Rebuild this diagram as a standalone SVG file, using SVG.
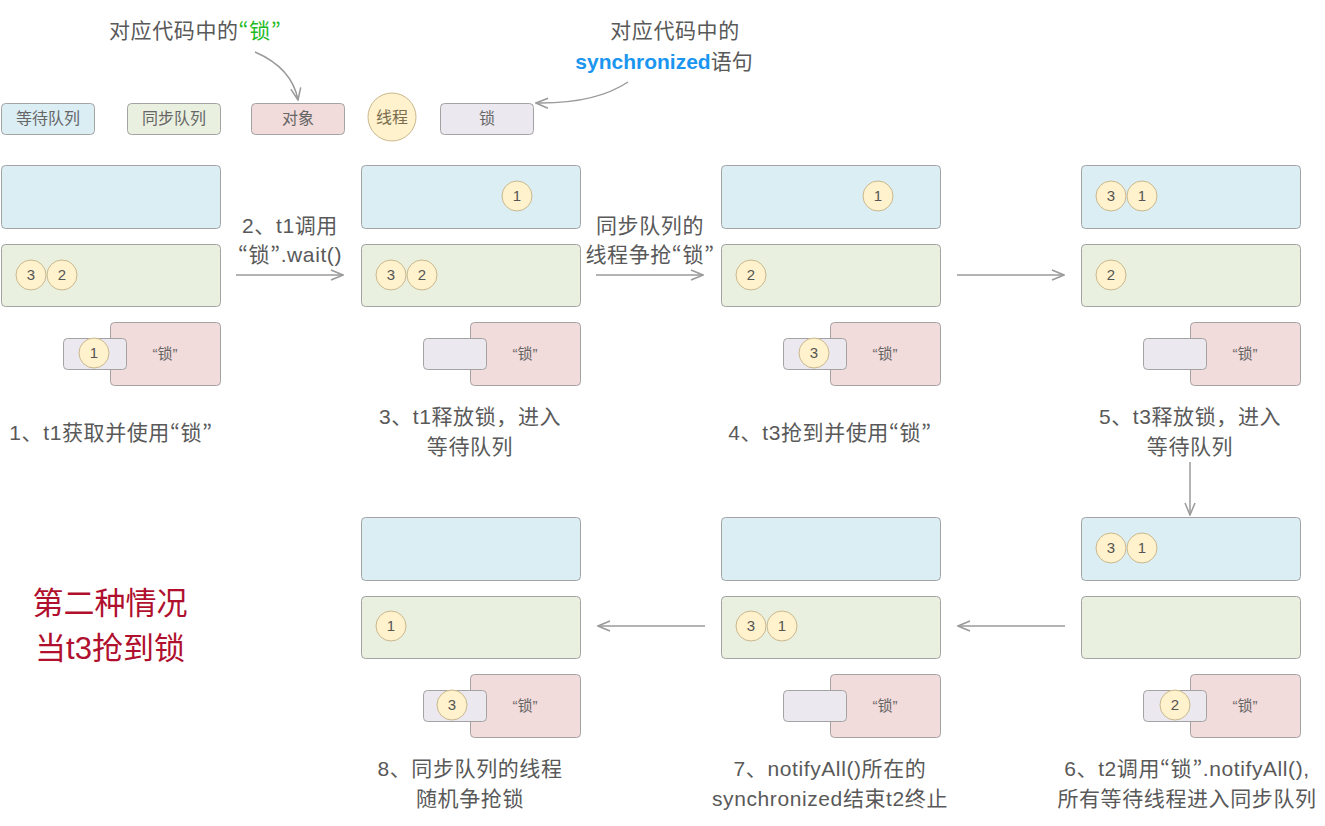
<svg xmlns="http://www.w3.org/2000/svg" xmlns:xlink="http://www.w3.org/1999/xlink" width="1325" height="826" viewBox="0 0 1325 826">
<style>
text{font-family:"Liberation Sans","Noto Sans CJK SC",sans-serif;fill:#595959}
.q{font-family:"Noto Sans CJK JP","Noto Sans CJK SC",sans-serif}
.qw{fill:#dbeef4;stroke:#a3a3a3;stroke-width:1}
.qs{fill:#e9f0df;stroke:#a3a3a3;stroke-width:1}
.ob{fill:#f2dcdb;stroke:#a3a3a3;stroke-width:1}
.lk{fill:#ebe8ef;stroke:#a3a3a3;stroke-width:1}
.th{fill:#fff2cc;stroke:#c9b88e;stroke-width:1}
.tn{font-size:15px;text-anchor:middle;fill:#555}
.lg{font-size:16px;text-anchor:middle;fill:#666}
.cap{font-size:21px;text-anchor:middle;letter-spacing:0.6px}
.con{fill:none;stroke:#9a9a9a;stroke-width:1.5}
</style>
<defs>
<marker id="arr" viewBox="0 0 14 12" refX="13" refY="6" markerWidth="14" markerHeight="12" markerUnits="userSpaceOnUse" orient="auto">
<path d="M1,1 L13,6 L1,11" fill="none" stroke="#9a9a9a" stroke-width="1.5"/>
</marker>
<g id="panel">
<rect class="qw" x="1.5" y="165.5" width="219" height="63" rx="4"/>
<rect class="qs" x="1.5" y="244.5" width="219" height="62" rx="4"/>
<rect class="ob" x="110.5" y="322.5" width="110" height="63" rx="4"/>
<text class="lg" x="165" y="359" style="font-size:15px">“锁”</text>
<rect class="lk" x="63.5" y="338.5" width="63" height="31" rx="4"/>
</g>
</defs>

<g id="legend">
<g id="lg-wait"><rect class="qw" x="1.5" y="103.5" width="93" height="31" rx="4"/><text class="lg" x="48" y="124">等待队列</text></g>
<g id="lg-sync"><rect class="qs" x="127.5" y="103.5" width="93" height="31" rx="4"/><text class="lg" x="174" y="124">同步队列</text></g>
<g id="lg-obj"><rect class="ob" x="251.5" y="103.5" width="93" height="31" rx="4"/><text class="lg" x="298" y="124">对象</text></g>
<g id="lg-thread"><circle class="th" cx="392" cy="117" r="24"/><text class="lg" x="392" y="123" style="fill:#7a6e50">线程</text></g>
<g id="lg-lock"><rect class="lk" x="440.5" y="103.5" width="93" height="31" rx="4"/><text class="lg" x="487" y="124">锁</text></g>
</g>

<g id="notes">
<text x="109" y="38" style="font-size:21px;letter-spacing:0.6px">对应代码中的<tspan class="q" style="fill:#1fba1f">“锁”</tspan></text>
<text x="675" y="38" style="font-size:21px;letter-spacing:0.6px;text-anchor:middle">对应代码中的</text>
<text x="664" y="69" style="font-size:21px;text-anchor:middle"><tspan style="fill:#1a95f0;font-weight:bold">synchronized</tspan>语句</text>
<text x="110" y="614" style="font-size:31px;text-anchor:middle;fill:#b0102e">第二种情况</text>
<text x="110" y="659" style="font-size:31px;text-anchor:middle;fill:#b0102e">当t3抢到锁</text>
</g>

<g id="step1">
<use xlink:href="#panel"/>
<circle class="th" cx="31" cy="275" r="15"/><text class="tn" x="31" y="280">3</text>
<circle class="th" cx="62" cy="275" r="15"/><text class="tn" x="62" y="280">2</text>
<circle class="th" cx="94" cy="353" r="15"/><text class="tn" x="94" y="358">1</text>
<text class="cap" x="111" y="440">1、t1获取并使用<tspan class="q">“锁”</tspan></text>
</g>

<g id="step3" transform="translate(360,0)">
<use xlink:href="#panel"/>
<circle class="th" cx="157" cy="196" r="15"/><text class="tn" x="157" y="201">1</text>
<circle class="th" cx="31" cy="275" r="15"/><text class="tn" x="31" y="280">3</text>
<circle class="th" cx="62" cy="275" r="15"/><text class="tn" x="62" y="280">2</text>
<text class="cap" x="110" y="424">3、t1释放锁，进入</text>
<text class="cap" x="110" y="454">等待队列</text>
</g>

<g id="step4" transform="translate(720,0)">
<use xlink:href="#panel"/>
<circle class="th" cx="158" cy="196" r="15"/><text class="tn" x="158" y="201">1</text>
<circle class="th" cx="31" cy="275" r="15"/><text class="tn" x="31" y="280">2</text>
<circle class="th" cx="94" cy="353" r="15"/><text class="tn" x="94" y="358">3</text>
<text class="cap" x="110" y="440">4、t3抢到并使用<tspan class="q">“锁”</tspan></text>
</g>

<g id="step5" transform="translate(1080,0)">
<use xlink:href="#panel"/>
<circle class="th" cx="31" cy="196" r="15"/><text class="tn" x="31" y="201">3</text>
<circle class="th" cx="62" cy="196" r="15"/><text class="tn" x="62" y="201">1</text>
<circle class="th" cx="31" cy="275" r="15"/><text class="tn" x="31" y="280">2</text>
<text class="cap" x="110" y="424">5、t3释放锁，进入</text>
<text class="cap" x="110" y="454">等待队列</text>
</g>

<g id="step6" transform="translate(1080,352)">
<use xlink:href="#panel"/>
<circle class="th" cx="31" cy="196" r="15"/><text class="tn" x="31" y="201">3</text>
<circle class="th" cx="62" cy="196" r="15"/><text class="tn" x="62" y="201">1</text>
<circle class="th" cx="95" cy="353" r="15"/><text class="tn" x="95" y="358">2</text>
<text class="cap" x="107" y="424">6、t2调用<tspan class="q">“锁”</tspan>.notifyAll(),</text>
<text class="cap" x="107" y="454">所有等待线程进入同步队列</text>
</g>

<g id="step7" transform="translate(720,352)">
<use xlink:href="#panel"/>
<circle class="th" cx="31" cy="274" r="15"/><text class="tn" x="31" y="279">3</text>
<circle class="th" cx="62" cy="274" r="15"/><text class="tn" x="62" y="279">1</text>
<text class="cap" x="110" y="424">7、notifyAll()所在的</text>
<text class="cap" x="110" y="454">synchronized结束t2终止</text>
</g>

<g id="step8" transform="translate(360,352)">
<use xlink:href="#panel"/>
<circle class="th" cx="31" cy="274" r="15"/><text class="tn" x="31" y="279">1</text>
<circle class="th" cx="92" cy="353" r="15"/><text class="tn" x="92" y="358">3</text>
<text class="cap" x="110" y="424">8、同步队列的线程</text>
<text class="cap" x="110" y="454">随机争抢锁</text>
</g>

<g id="connectors">
<path class="con" d="M255,52 Q292,68 298,100" marker-end="url(#arr)"/>
<path class="con" d="M628,82 Q595,104 536,103" marker-end="url(#arr)"/>
<path class="con" d="M236,275 H343" marker-end="url(#arr)"/>
<text class="cap" x="290" y="233">2、t1调用</text>
<text class="cap" x="290" y="262"><tspan class="q">“锁”</tspan>.wait()</text>
<path class="con" d="M596,275 H703" marker-end="url(#arr)"/>
<text class="cap" x="650" y="233">同步队列的</text>
<text class="cap" x="650" y="262">线程争抢<tspan class="q">“锁”</tspan></text>
<path class="con" d="M957,275 H1064" marker-end="url(#arr)"/>
<path class="con" d="M1190,462 V515" marker-end="url(#arr)"/>
<path class="con" d="M1065,626 H958" marker-end="url(#arr)"/>
<path class="con" d="M705,626 H598" marker-end="url(#arr)"/>
</g>
</svg>
